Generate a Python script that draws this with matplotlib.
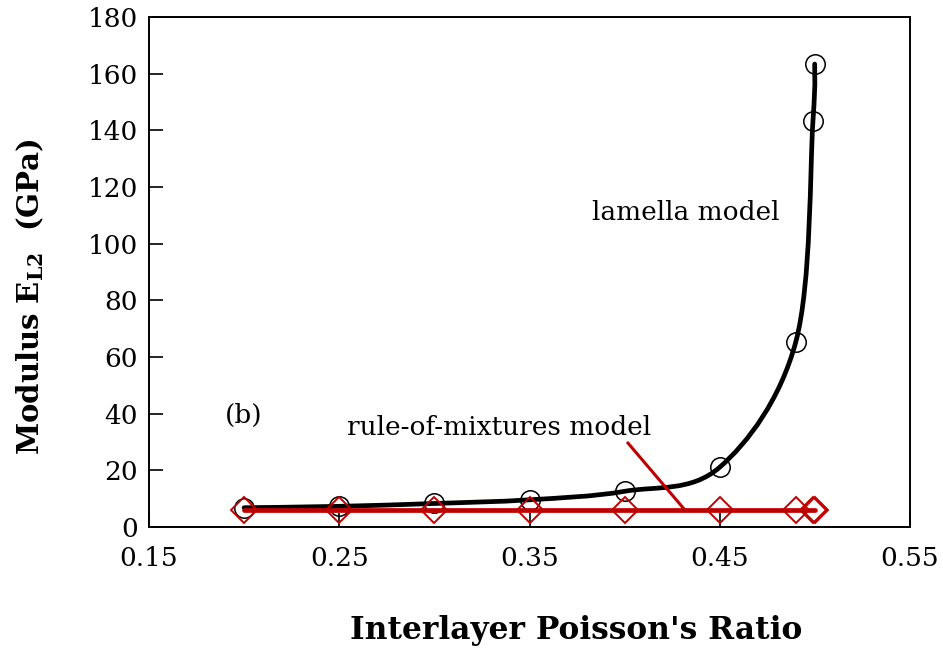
import numpy as np
import matplotlib
matplotlib.use("Agg")
import matplotlib.pyplot as plt
from matplotlib.path import Path
from matplotlib.patches import PathPatch

# ── Data ───────────────────────────────────────────────────────────────────────
nu         = [0.20, 0.25, 0.30, 0.35, 0.40, 0.45, 0.49, 0.499, 0.4999]
E_lamella  = [6.8, 7.3, 8.3, 9.6, 12.6, 21.1, 65.4, 143.4, 163.4]
E_rom      = [6.0, 6.0, 6.0, 6.0, 6.0, 6.0, 6.0, 6.0, 6.0]
x_ticks    = [0.15, 0.25, 0.35, 0.45, 0.55]
y_ticks    = [0, 20, 40, 60, 80, 100, 120, 140, 160, 180]

RED = "#C00000"
SERIF = "DejaVu Serif"

plt.rcParams["font.family"] = SERIF
plt.rcParams["mathtext.fontset"] = "dejavuserif"


def smooth_path(xs, ys):
    """Excel-style smoothed line: cubic Bezier segments through the points."""
    p = np.column_stack([xs, ys]).astype(float)
    n = len(p)
    verts = [p[0]]
    codes = [Path.MOVETO]
    for i in range(n - 1):
        p0 = p[i - 1] if i > 0 else p[i]
        p3 = p[i + 2] if i + 2 < n else p[i + 1]
        c1 = p[i] + (p[i + 1] - p0) / 6.0
        c2 = p[i + 1] - (p3 - p[i]) / 6.0
        verts += [c1, c2, p[i + 1]]
        codes += [Path.CURVE4] * 3
    return Path(verts, codes)


W, H = 943, 649
fig = plt.figure(figsize=(W / 100, H / 100), dpi=100)
ax = fig.add_axes([149 / W, 1 - 527 / H, (910 - 149) / W, (527 - 17) / H])

# lamella model: smoothed black curve + open circles
ax.add_patch(PathPatch(smooth_path(nu, E_lamella), fill=False, edgecolor="black",
                       linewidth=3.4, capstyle="round", zorder=2))
ax.plot(nu, E_lamella, linestyle="none", marker="o", markersize=14,
        markerfacecolor="none", markeredgecolor="black", markeredgewidth=1.1, zorder=3)

# rule-of-mixtures model: red line + open diamonds
ax.plot(nu, E_rom, color=RED, linewidth=3.4, solid_capstyle="round", zorder=4)
ax.plot(nu, E_rom, linestyle="none", marker="D", markersize=13,
        markerfacecolor="none", markeredgecolor=RED, markeredgewidth=1.4, zorder=5)

ax.set_xlim(0.15, 0.55)
ax.set_ylim(0, 180)
ax.set_xticks(x_ticks)
ax.set_xticklabels([f"{t:.2f}" for t in x_ticks])
ax.set_yticks(y_ticks)
ax.tick_params(direction="in", length=10, width=1.2, labelsize=19, pad=8)
ax.tick_params(axis="x", pad=14)
for s in ax.spines.values():
    s.set_linewidth(1.4)

# axis titles placed in figure pixels
fig.text(576 / W, 1 - 630 / H, "Interlayer Poisson's Ratio", fontsize=22.5,
         fontweight="bold", ha="center", va="center")
fig.text(30 / W, 1 - 297 / H, "Modulus $\\mathbf{E_{L2}}$  (GPa)", fontsize=21,
         fontweight="bold", rotation=90, ha="center", va="center")

ax.text(0.432, 111, "lamella model", fontsize=19, ha="center", va="center")
ax.text(0.200, 39.5, "(b)", fontsize=19, ha="center", va="center")
ax.text(0.334, 35.0, "rule-of-mixtures model", fontsize=19, ha="center", va="center")
ax.plot([0.4018, 0.4317], [29.6, 6.0], color=RED, linewidth=2.2, zorder=4)

fig.savefig("out.png", dpi=100)
